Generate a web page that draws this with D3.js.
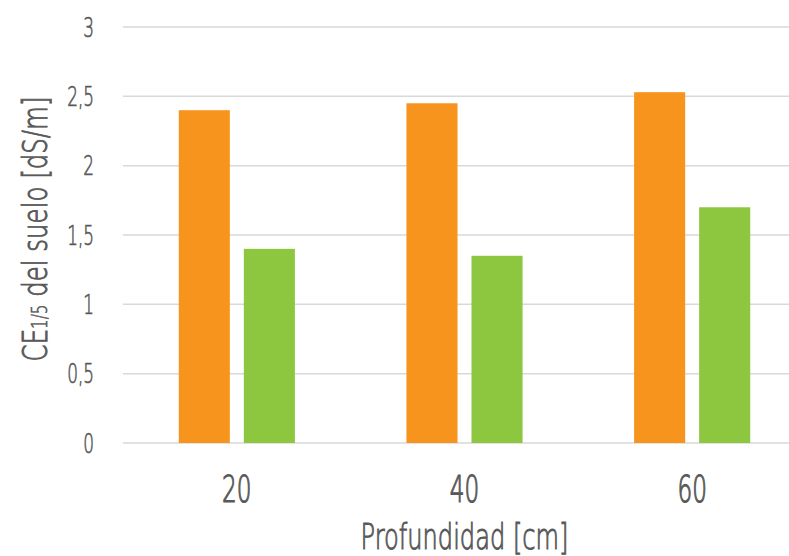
<!DOCTYPE html>
<html>
<head>
<meta charset="utf-8">
<script src="https://cdn.jsdelivr.net/npm/d3@7"></script>
<style>
  body { margin: 0; background: #fff; }
  text { font-family: "DejaVu Sans", sans-serif; font-weight: 200; fill: #595959; stroke: #595959; stroke-width: 1; }
</style>
</head>
<body>
<div id="chart"></div>
<script>
// Data
const depths = ["20", "40", "60"];
const seriesNames = ["s1", "s2"];
const orangeValues = [2.4, 2.45, 2.53];
const greenValues = [1.4, 1.35, 1.7];
const yTicks = [0, 0.5, 1, 1.5, 2, 2.5, 3];

const colors = d3.scaleOrdinal()
  .domain(seriesNames)
  .range(["#F7941D", "#8DC63F"]);

const width = 789, height = 556;
const margin = { top: 27, right: -17, bottom: 113, left: 123 };

const svg = d3.select("#chart")
  .append("svg")
  .attr("width", width)
  .attr("height", height);

const x0 = d3.scaleBand()
  .domain(depths)
  .range([margin.left, width - margin.right])
  .paddingInner(0.49)
  .paddingOuter(0.245);

const x1 = d3.scaleBand()
  .domain(seriesNames)
  .range([0, x0.bandwidth()])
  .paddingInner(0.215);

const y = d3.scaleLinear()
  .domain([0, 3])
  .range([height - margin.bottom, margin.top]);

// gridlines
svg.append("g")
  .selectAll("line")
  .data(yTicks)
  .join("line")
  .attr("x1", margin.left)
  .attr("x2", width - margin.right)
  .attr("y1", d => y(d))
  .attr("y2", d => y(d))
  .attr("stroke", "#D9D9D9")
  .attr("stroke-width", 1.5);

// y tick labels
svg.append("g")
  .selectAll("text")
  .data(yTicks)
  .join("text")
  .attr("text-anchor", "end")
  .attr("font-size", 26)
  .style("stroke-width", 0.7)
  .attr("transform", d => `translate(94, ${y(d) + 9.5}) scale(0.65,1)`)
  .text(d => String(d).replace(".", ","));

// bars
const rows = depths.map((d, i) => ({ depth: d, values: [orangeValues[i], greenValues[i]] }));

svg.append("g")
  .selectAll("g")
  .data(rows)
  .join("g")
  .attr("transform", d => `translate(${x0(d.depth)},0)`)
  .selectAll("rect")
  .data(d => d.values.map((v, j) => ({ key: seriesNames[j], value: v })))
  .join("rect")
  .attr("x", d => x1(d.key))
  .attr("width", x1.bandwidth())
  .attr("y", d => y(d.value))
  .attr("height", d => y(0) - y(d.value))
  .attr("fill", d => colors(d.key));

// x tick labels
svg.append("g")
  .selectAll("text")
  .data(depths)
  .join("text")
  .attr("text-anchor", "middle")
  .attr("font-size", 38)
  .style("stroke-width", 1.2)
  .attr("transform", d => `translate(${x0(d) + x0.bandwidth() / 2}, 502) scale(0.61,1)`)
  .text(d => d);

// axis titles
svg.append("text")
  .attr("text-anchor", "middle")
  .attr("font-size", 36)
  .attr("transform", `translate(${(margin.left + width - margin.right) / 2}, 549) scale(0.67,1)`)
  .text("Profundidad [cm]");

const yTitle = svg.append("text")
  .attr("text-anchor", "middle")
  .attr("font-size", 34)
  .attr("transform", "translate(47, 229) rotate(-90) scale(0.72,1)");
yTitle.append("tspan").text("CE");
yTitle.append("tspan").attr("font-size", 21).style("stroke-width", 0.6).text("1/5");
yTitle.append("tspan").text(" del suelo [dS/m]");
</script>
</body>
</html>
